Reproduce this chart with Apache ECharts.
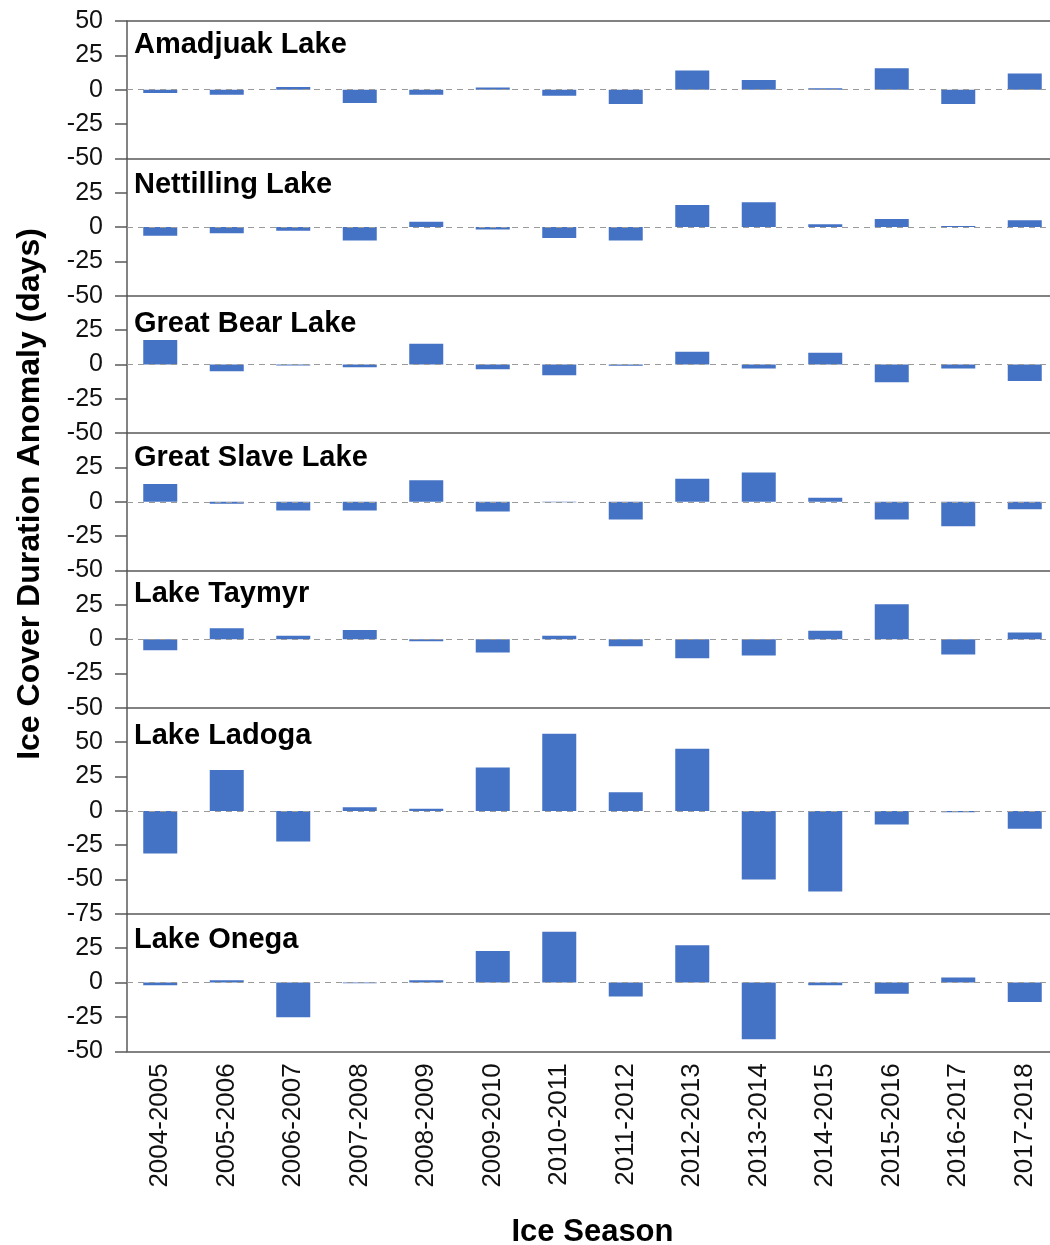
<!DOCTYPE html>
<html>
<head>
<meta charset="utf-8">
<script src="https://cdn.jsdelivr.net/npm/echarts@6/dist/echarts.min.js"></script>
<style>
  html, body { margin: 0; padding: 0; background: #fff; }
  #main { width: 1050px; height: 1245px; }
</style>
</head>
<body>
<div id="main"></div>
<script>
// ice seasons on the x axis
const seasons = ['2004-2005', '2005-2006', '2006-2007', '2007-2008', '2008-2009', '2009-2010', '2010-2011',
  '2011-2012', '2012-2013', '2013-2014', '2014-2015', '2015-2016', '2016-2017', '2017-2018'];

const lakes = ['Amadjuak Lake', 'Nettilling Lake', 'Great Bear Lake', 'Great Slave Lake', 'Lake Taymyr', 'Lake Ladoga', 'Lake Onega'];

// anomaly in days
const amadjuak   = [-2.4, -3.6, 2, -9.7, -3.6, 1.5, -4.4, -10.5, 13.9, 7, 1, 15.6, -10.5, 11.7];
const nettilling = [-6.3, -4.6, -2.7, -9.7, 3.9, -1.7, -8, -9.7, 16, 18, 2, 5.8, 0.7, 4.9];
const greatBear  = [17.7, -5, -0.8, -2, 15, -3.6, -7.8, -1, 9.2, -2.9, 8.5, -13, -2.9, -12];
const greatSlave = [12.9, -1.5, -6.3, -6.3, 15.6, -7, -0.3, -12.9, 16.8, 21.4, 2.9, -12.9, -17.8, -5.4];
const taymyr     = [-8, 8, 2.4, 6.6, -1.5, -9.7, 2.5, -5.1, -13.9, -11.9, 6.1, 25.5, -11.2, 4.9];
const ladoga     = [-31, 29.7, -22.3, 2.7, 1.5, 31.6, 56.1, 13.5, 45.3, -50, -58.6, -10, -1, -13];
const onega      = [-2, 1.7, -25.2, -0.5, 1.7, 23, 37.1, -10.1, 27.2, -41.3, -2, -8.2, 3.7, -14.1];

const lakeValues = [amadjuak, nettilling, greatBear, greatSlave, taymyr, ladoga, onega];

// y axis ranges per panel
const yMins = [-50, -50, -50, -50, -50, -75, -50];
const yMaxs = [50, 50, 50, 50, 50, 75, 50];

// layout
const plotLeft = 127;
const plotWidth = 931;
const plotTop = 21;
const pxPerDay = 1.3737;
const titleOffsets = [9, 12, 14, 10, 9, 14, 12];

const axisColor = '#5a5a5a';
const barColor = '#4472C4';
const font = 'Liberation Sans, Arial, sans-serif';

const grids = [];
const xAxes = [];
const yAxes = [];
const series = [];
const titles = [];

let panelTop = plotTop;
lakes.forEach(function (name, i) {
  const h = (yMaxs[i] - yMins[i]) * pxPerDay;
  grids.push({ left: plotLeft, width: plotWidth, top: panelTop, height: h, outerBoundsMode: 'none', containLabel: false });
  titles.push({
    text: name, left: 134, top: panelTop + titleOffsets[i], padding: 0,
    textStyle: { fontSize: 29, fontWeight: 'bold', fontFamily: font, color: '#000' }
  });
  const last = i === lakes.length - 1;
  xAxes.push({
    type: 'category', gridIndex: i, data: seasons, position: 'bottom',
    axisLine: { onZero: false, lineStyle: { color: axisColor, width: 1.5 } },
    axisTick: { show: false },
    axisLabel: {
      show: last, rotate: 90, interval: 0, margin: 12,
      fontSize: 26, fontFamily: font, color: '#111'
    },
    name: last ? 'Ice Season' : '',
    nameLocation: 'middle', nameGap: 166,
    nameTextStyle: { fontSize: 31, fontWeight: 'bold', fontFamily: font, color: '#000' }
  });
  yAxes.push({
    type: 'value', gridIndex: i, min: yMins[i], max: yMaxs[i], interval: 25,
    axisLine: { show: true, lineStyle: { color: axisColor, width: 1.5 } },
    axisTick: { show: true, inside: false, length: 12, lineStyle: { color: axisColor, width: 1.5 } },
    splitLine: { show: false },
    axisLabel: {
      showMaxLabel: i === 0, showMinLabel: true, margin: 24,
      fontSize: 25, fontFamily: font, color: '#111'
    }
  });
  series.push({
    type: 'bar', name: name, xAxisIndex: i, yAxisIndex: i,
    data: lakeValues[i], barWidth: 34,
    itemStyle: { color: barColor },
    markLine: {
      silent: true, symbol: 'none', label: { show: false },
      lineStyle: { color: '#9a9a9a', type: [6, 5], width: 1 },
      data: [{ yAxis: 0 }]
    }
  });
  panelTop += h;
});

// top frame line of the first panel
xAxes.push({
  type: 'category', gridIndex: 0, data: seasons, position: 'top',
  axisLine: { onZero: false, lineStyle: { color: axisColor, width: 1.5 } },
  axisTick: { show: false }, axisLabel: { show: false }
});

const chart = echarts.init(document.getElementById('main'));
chart.setOption({
  animation: false,
  backgroundColor: '#fff',
  title: titles,
  grid: grids,
  xAxis: xAxes,
  yAxis: yAxes,
  series: series,
  graphic: [{
    type: 'text', x: 30, y: 494, rotation: Math.PI / 2,
    style: {
      text: 'Ice Cover Duration Anomaly (days)', fill: '#000',
      fontSize: 32, fontWeight: 'bold', fontFamily: font,
      align: 'center', verticalAlign: 'middle'
    }
  }]
});
</script>
</body>
</html>
